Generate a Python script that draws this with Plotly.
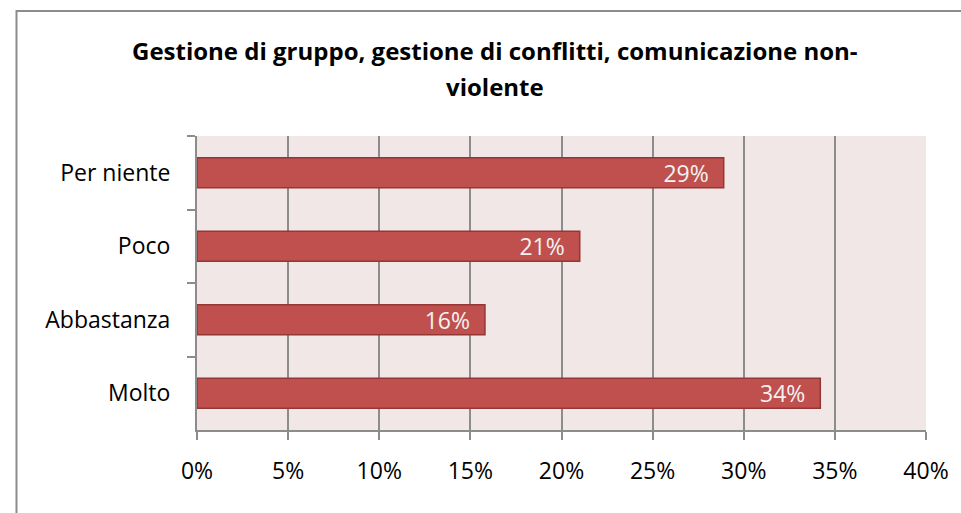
import plotly.graph_objects as go

categories = ["Per niente", "Poco", "Abbastanza", "Molto"]
values = [0.289, 0.21, 0.158, 0.342]
labels = ["29%", "21%", "16%", "34%"]
x_ticks = [0, 0.05, 0.10, 0.15, 0.20, 0.25, 0.30, 0.35, 0.40]
x_tick_text = ["0%", "5%", "10%", "15%", "20%", "25%", "30%", "35%", "40%"]
title_lines = ["Gestione di gruppo, gestione di conflitti, comunicazione non-", "violente"]

OFF = 0  # page body margin removed via post_script
W, H = 961 - OFF, 513 - OFF
L, R, T, B = 197 - OFF, 961 - 928, 136 - OFF, 513 - 430
pw, ph = W - L - R, H - T - B

def px_x(p):
    return (p - OFF - L) / pw

def px_y(p):
    return (H - B - (p - OFF)) / ph

font = "'Open Sans', sans-serif"
pad = "\u00a0\u00a0"

fig = go.Figure(go.Bar(
    y=categories, x=values, orientation="h",
    marker=dict(color="#C0504D", line=dict(color="#943634", width=1.5)),
    text=[t + pad for t in labels], textposition="inside", insidetextanchor="end",
    constraintext="none",
    textfont=dict(family=font, size=23, color="#F2F2F2"),
    width=0.41, cliponaxis=False, hoverinfo="skip",
))

fig.update_layout(
    width=W, height=H,
    margin=dict(l=L, r=R, t=T, b=B),
    paper_bgcolor="white", plot_bgcolor="#F2E7E7",
    showlegend=False,
    xaxis=dict(range=[0, 0.40], tickvals=x_ticks, ticktext=x_tick_text,
               showgrid=True, gridcolor="#8C8C8C", gridwidth=1.5,
               ticks="outside", ticklen=8, tickcolor="#8C8C8C", tickwidth=1.5,
               showline=True, linecolor="#8C8C8C", linewidth=1.5,
               zeroline=False, ticklabelstandoff=12,
               tickfont=dict(family=font, size=23, color="black")),
    yaxis=dict(autorange="reversed", tickson="boundaries",
               ticks="outside", ticklen=8, tickcolor="#8C8C8C", tickwidth=1.5,
               showline=True, linecolor="#8C8C8C", linewidth=2,
               showgrid=False, ticklabelstandoff=20,
               tickfont=dict(family=font, size=23, color="black")),
    annotations=[dict(
        text="<b>" + line + "</b>", xref="paper", yref="paper",
        x=px_x(496), y=px_y(32 + 36 * i), xanchor="center", yanchor="top",
        showarrow=False, align="center",
        font=dict(family=font, size=24, color="black"),
    ) for i, line in enumerate(title_lines)],
    shapes=[dict(type="rect", xref="paper", yref="paper",
                 x0=px_x(16), x1=px_x(1000), y0=px_y(560), y1=px_y(11),
                 line=dict(color="#8C8C8C", width=2), fillcolor="rgba(0,0,0,0)",
                 layer="below")],
)

fig.write_html("out.html", config={"displayModeBar": False},
               post_script="document.body.style.margin='0';document.body.style.overflow='hidden';")
